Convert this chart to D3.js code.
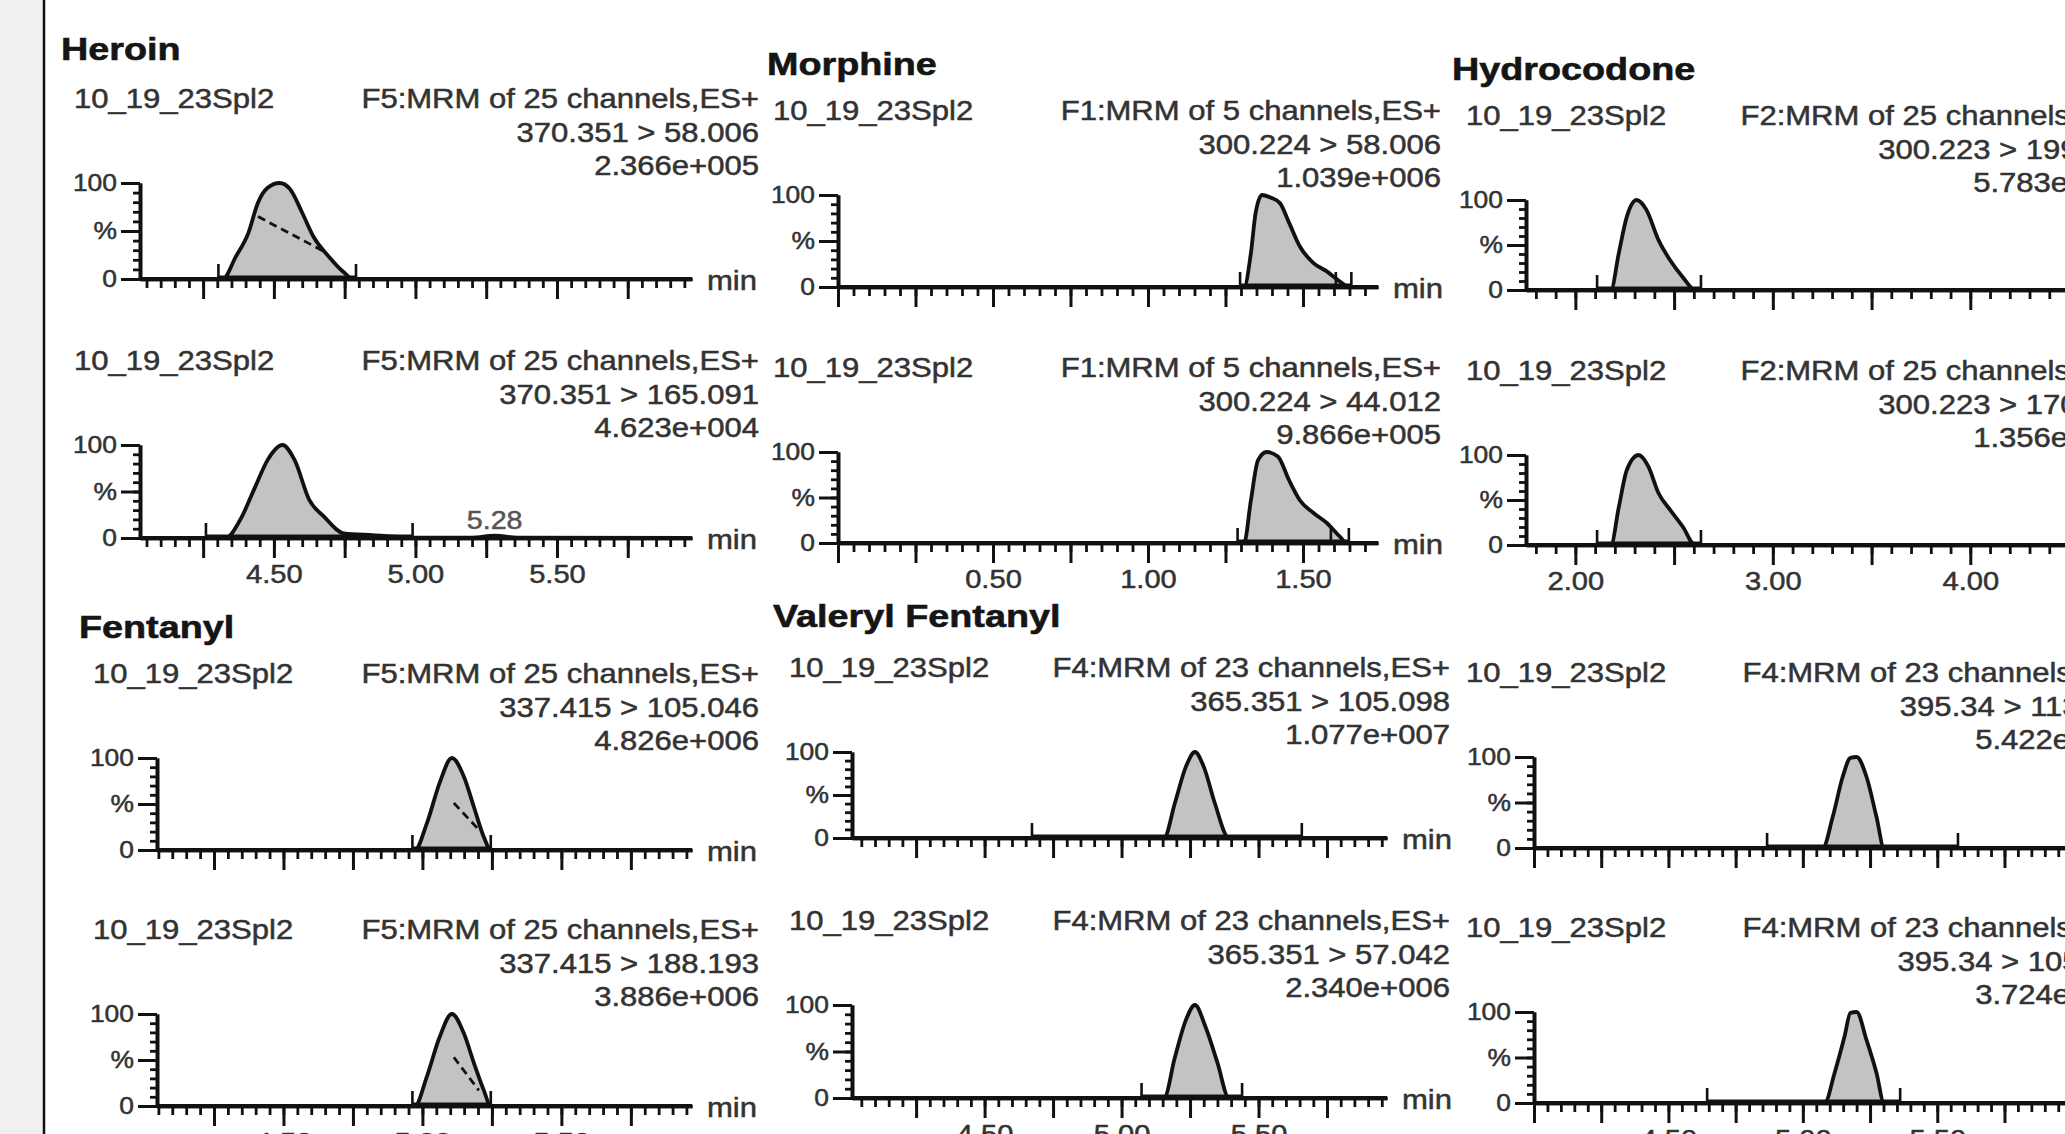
<!DOCTYPE html>
<html>
<head>
<meta charset="utf-8">
<script src="https://cdnjs.cloudflare.com/ajax/libs/d3/7.8.5/d3.min.js"></script>
<style>
    html, body { margin: 0; padding: 0; background: #fff; overflow: hidden; }
</style>
</head>
<body>
<div id="chart"></div>
<script>
// panel texts
var compounds = ["Heroin", "Morphine", "Hydrocodone", "Fentanyl", "Valeryl Fentanyl", "Carfentanil"];
var sampleName = "10_19_23Spl2";
var functionLabels = ["F5:MRM of 25 channels,ES+", "F1:MRM of 5 channels,ES+", "F2:MRM of 25 channels,ES+",
                      "F5:MRM of 25 channels,ES+", "F4:MRM of 23 channels,ES+", "F4:MRM of 23 channels,ES+"];
var transitions = [["370.351 > 58.006", "370.351 > 165.091"],
                   ["300.224 > 58.006", "300.224 > 44.012"],
                   ["300.223 > 199.134", "300.223 > 170.124"],
                   ["337.415 > 105.046", "337.415 > 188.193"],
                   ["365.351 > 105.098", "365.351 > 57.042"],
                   ["395.34 > 113.105", "395.34 > 105.064"]];
var maxIntensity = [["2.366e+005", "4.623e+004"],
                    ["1.039e+006", "9.866e+005"],
                    ["5.783e+005", "1.356e+005"],
                    ["4.826e+006", "3.886e+006"],
                    ["1.077e+007", "2.340e+006"],
                    ["5.422e+006", "3.724e+006"]];

// time axes (min)
var timeRanges = [[4.027, 5.977], [0, 1.742], [1.75, 4.51], [4.045, 5.97], [4.016, 5.969], [4.0, 5.99]];
var majorStep = [0.25, 0.25, 0.5, 0.25, 0.25, 0.25];
var minorStep = [0.05, 0.05, 0.1, 0.05, 0.05, 0.05];
var tickLabels = [["4.50", "5.00", "5.50"], ["0.50", "1.00", "1.50"], ["2.00", "3.00", "4.00"],
                  ["4.50", "5.00", "5.50"], ["4.50", "5.00", "5.50"], ["4.50", "5.00", "5.50"]];

// traces: retention time (min) and relative intensity (%)
var heroinA_t = [4.32, 4.365, 4.41, 4.443, 4.478, 4.52, 4.556, 4.60, 4.64, 4.695, 4.747, 4.78];
var heroinA_i = [0, 23, 48, 79, 95, 100, 94, 69, 44, 23, 7, 0];
var heroinB_t = [4.33, 4.38, 4.434, 4.478, 4.53, 4.573, 4.625, 4.677, 4.747, 4.85, 4.99, 5.20, 5.28, 5.36];
var heroinB_i = [0, 19, 55, 84, 100, 84, 41, 23, 5, 3, 0.5, 0.5, 2.5, 0.5];
var morphineA_t = [1.31, 1.332, 1.347, 1.368, 1.397, 1.426, 1.455, 1.49, 1.534, 1.577, 1.619, 1.648];
var morphineA_i = [0, 37, 80, 100, 97, 91, 70, 44, 26, 17, 6, 0];
var morphineB_t = [1.31, 1.332, 1.355, 1.383, 1.419, 1.455, 1.49, 1.534, 1.577, 1.619, 1.642];
var morphineB_i = [0, 47, 91, 100, 95, 69, 47, 33, 22, 7, 0];
var hydrocodoneA_t = [2.18, 2.22, 2.26, 2.31, 2.36, 2.42, 2.48, 2.545, 2.606];
var hydrocodoneA_i = [0, 41, 81, 100, 89, 56, 33, 14, 0];
var hydrocodoneB_t = [2.18, 2.22, 2.26, 2.32, 2.37, 2.42, 2.48, 2.545, 2.606];
var hydrocodoneB_i = [0, 42, 83, 100, 87, 58, 39, 20, 0];
var fentanylA_t = [4.973, 5.016, 5.062, 5.106, 5.149, 5.185, 5.221, 5.246];
var fentanylA_i = [0, 29, 73, 100, 80, 47, 14, 0];
var fentanylB_t = [4.973, 5.016, 5.062, 5.106, 5.149, 5.185, 5.221, 5.246];
var fentanylB_i = [0, 32, 75, 100, 79, 47, 17, 0];
var valerylA_t = [5.155, 5.195, 5.235, 5.268, 5.30, 5.34, 5.392];
var valerylA_i = [0, 41, 83, 100, 83, 41, 0];
var valerylB_t = [5.155, 5.195, 5.235, 5.268, 5.307, 5.35, 5.392];
var valerylB_i = [0, 44, 84, 100, 76, 38, 0];
var carfentanilA_t = [5.074, 5.111, 5.148, 5.177, 5.2, 5.237, 5.274, 5.302];
var carfentanilA_i = [0, 34, 78, 99, 100, 78, 34, 0];
var carfentanilB_t = [5.081, 5.118, 5.155, 5.177, 5.2, 5.237, 5.274, 5.302];
var carfentanilB_i = [0, 33, 73, 99, 100, 69, 33, 0];

// integration start / end markers (min)
var heroinA_marks = [4.304, 4.79], heroinB_marks = [4.26, 4.99];
var morphineA_marks = [1.297, 1.606, 1.656], morphineB_marks = [1.289, 1.59, 1.648];
var hydrocodoneA_marks = [2.11, 2.636], hydrocodoneB_marks = [2.11, 2.636];
var fentanylA_marks = [4.964, 5.246], fentanylB_marks = [4.964, 5.246];
var valerylA_marks = [4.673, 5.658], valerylB_marks = [5.073, 5.44];
var carfentanilA_marks = [4.867, 5.577], carfentanilB_marks = [4.644, 5.362];

// dashed overlays [t0, i0, t1, i1] and labelled minor peaks
var heroinA_dash = [4.444, 65, 4.688, 27];
var fentanylA_dash = [5.113, 51, 5.203, 22];
var fentanylB_dash = [5.113, 53, 5.203, 17];
var heroinB_peakT = [5.28];

var traces = [
    [{t: heroinA_t, i: heroinA_i, marks: heroinA_marks, dash: heroinA_dash},
     {t: heroinB_t, i: heroinB_i, marks: heroinB_marks, peaks: heroinB_peakT}],
    [{t: morphineA_t, i: morphineA_i, marks: morphineA_marks},
     {t: morphineB_t, i: morphineB_i, marks: morphineB_marks}],
    [{t: hydrocodoneA_t, i: hydrocodoneA_i, marks: hydrocodoneA_marks},
     {t: hydrocodoneB_t, i: hydrocodoneB_i, marks: hydrocodoneB_marks}],
    [{t: fentanylA_t, i: fentanylA_i, marks: fentanylA_marks, dash: fentanylA_dash},
     {t: fentanylB_t, i: fentanylB_i, marks: fentanylB_marks, dash: fentanylB_dash}],
    [{t: valerylA_t, i: valerylA_i, marks: valerylA_marks},
     {t: valerylB_t, i: valerylB_i, marks: valerylB_marks}],
    [{t: carfentanilA_t, i: carfentanilA_i, marks: carfentanilA_marks},
     {t: carfentanilB_t, i: carfentanilB_i, marks: carfentanilB_marks}]
];

// where each pasted panel sits on the page
var layout = [
    {titleX: 61, titleY: 60, textX: 74, rightX: 759, axisX: 140, axisW: 552, rows: [{y100: 183, y0: 279}, {y100: 445, y0: 538}]},
    {titleX: 767, titleY: 75, textX: 773, rightX: 1441, axisX: 838, axisW: 540, rows: [{y100: 195, y0: 287}, {y100: 452, y0: 543}]},
    {titleX: 1452, titleY: 80, textX: 1466, rightX: 2138, axisX: 1526, axisW: 545, rows: [{y100: 200, y0: 290}, {y100: 455, y0: 545}]},
    {titleX: 79, titleY: 638, textX: 93, rightX: 759, axisX: 157, axisW: 535, rows: [{y100: 758, y0: 850}, {y100: 1014, y0: 1106}]},
    {titleX: 773, titleY: 627, textX: 789, rightX: 1450, axisX: 852, axisW: 535, rows: [{y100: 752, y0: 838}, {y100: 1005, y0: 1098}]},
    {titleX: 1455, titleY: 640, textX: 1466, rightX: 2140, axisX: 1534, axisW: 535, clipX: 1463, rows: [{y100: 757, y0: 848}, {y100: 1012, y0: 1103}]}
];

var W = 2065, H = 1134,
    font = "'Liberation Sans', Arial, Helvetica, sans-serif",
    ink = "#111",
    textGrey = "#333",

    svg = d3.select("#chart").append("svg")
        .attr("width", W)
        .attr("height", H)
        .style("font-family", font),

    // text in the source is a little wide and heavy, so stretch it and give it a thin outline
    label = function (g, x, y, str, size, anchor, weight, sx, color) {
        return g.append("text")
            .attr("transform", "translate(" + x + "," + y + ") scale(" + sx + ",1)")
            .attr("text-anchor", anchor)
            .attr("font-size", size + "px")
            .attr("font-weight", weight)
            .attr("fill", color)
            .attr("stroke", color)
            .attr("stroke-width", weight === "bold" ? 0.6 : 0.5)
            .text(str);
    },

    ticksFor = function (dom, step) {
        var a = Math.ceil(dom[0] / step - 1e-6),
            b = Math.floor(dom[1] / step + 1e-6);
        return d3.range(a, b + 1).map(function (n) { return +(n * step).toFixed(3); });
    },

    styleAxis = function (sel, width) {
        sel.attr("font-family", font);
        sel.select(".domain").attr("stroke", ink).attr("stroke-width", 3.6);
        sel.selectAll(".tick line").attr("stroke", ink).attr("stroke-width", width);
    };

svg.append("rect").attr("width", W).attr("height", H).attr("fill", "#fff");
svg.append("rect").attr("width", 43).attr("height", H).attr("fill", "#f0f0f0");
svg.append("line").attr("x1", 44).attr("x2", 44).attr("y1", 0).attr("y2", H)
    .attr("stroke", ink).attr("stroke-width", 2.5);

layout.forEach(function (p, k) {
    var g = svg.append("g"),
        dom = timeRanges[k],
        title = label(g, p.titleX, p.titleY, compounds[k], 32, "start", "bold", 1.18, "#151515");

    if (p.clipX) {
        svg.append("clipPath").attr("id", "clip" + k)
            .append("rect").attr("x", p.clipX).attr("y", 0).attr("width", W).attr("height", H);
        title.attr("clip-path", "url(#clip" + k + ")");
    }

    traces[k].forEach(function (tr, j) {
        var box = p.rows[j],
            x = d3.scaleLinear().domain(dom).range([p.axisX, p.axisX + p.axisW]),
            y = d3.scaleLinear().domain([0, 100]).range([box.y0, box.y100]),
            pts = tr.t.map(function (t, n) { return {t: t, i: tr.i[n]}; }),
            full = [{t: dom[0], i: 0}].concat(pts, [{t: dom[1], i: 0}]),
            m0 = tr.marks[0],
            m1 = tr.marks[tr.marks.length - 1],
            inside = pts.filter(function (d) { return d.t >= m0 && d.t <= m1; }),
            gx, gy, gxMajor, gyMajor;

        // header lines
        label(g, p.textX, box.y100 - 75, sampleName, 27, "start", "normal", 1.15, textGrey);
        label(g, p.rightX, box.y100 - 75, functionLabels[k], 27, "end", "normal", 1.15, textGrey);
        label(g, p.rightX, box.y100 - 41, transitions[k][j], 27, "end", "normal", 1.15, textGrey);
        label(g, p.rightX, box.y100 - 8, maxIntensity[k][j], 27, "end", "normal", 1.15, textGrey);

        // shaded peak
        g.append("path")
            .datum(inside)
            .attr("fill", "#c3c3c3")
            .attr("d", d3.area()
                .x(function (d) { return x(d.t); })
                .y0(y(0))
                .y1(function (d) { return y(d.i); })
                .curve(d3.curveMonotoneX));

        // x axis: minor and major ticks
        gx = g.append("g").attr("transform", "translate(0," + box.y0 + ")");
        gx.call(d3.axisBottom(x).tickValues(ticksFor(dom, minorStep[k]))
            .tickSize(9).tickSizeOuter(0).tickFormat(""));
        styleAxis(gx, 2.8);
        gxMajor = g.append("g").attr("transform", "translate(0," + box.y0 + ")");
        gxMajor.call(d3.axisBottom(x).tickValues(ticksFor(dom, majorStep[k]))
            .tickSize(20).tickSizeOuter(0).tickPadding(7)
            .tickFormat(function (d) {
                var s = d.toFixed(2);
                return (j === 1 && tickLabels[k].indexOf(s) >= 0) ? s : "";
            }));
        styleAxis(gxMajor, 3);
        gxMajor.selectAll(".tick text")
            .attr("font-size", "26px")
            .attr("fill", textGrey)
            .attr("stroke", textGrey)
            .attr("stroke-width", 0.5)
            .attr("transform", "scale(1.12,1)");

        label(g, p.axisX + p.axisW + 15, box.y0 + 11, "min", 27, "start", "normal", 1.15, textGrey);

        // y axis
        gy = g.append("g").attr("transform", "translate(" + p.axisX + ",0)");
        gy.call(d3.axisLeft(y).tickValues(d3.range(0, 101, 10))
            .tickSize(7).tickSizeOuter(0).tickFormat(""));
        styleAxis(gy, 2.8);
        gyMajor = g.append("g").attr("transform", "translate(" + p.axisX + ",0)");
        gyMajor.call(d3.axisLeft(y).tickValues([0, 50, 100])
            .tickSize(19).tickSizeOuter(0).tickPadding(2)
            .tickFormat(function (d) { return d === 50 ? "%" : d; }));
        styleAxis(gyMajor, 3);
        gyMajor.selectAll(".tick text")
            .attr("font-size", "24px")
            .attr("fill", textGrey)
            .attr("stroke", textGrey)
            .attr("stroke-width", 0.5)
            .attr("transform", "scale(1.1,1)");

        // integration baseline and markers
        g.append("line")
            .attr("x1", x(m0)).attr("x2", x(m1))
            .attr("y1", y(0) - 2).attr("y2", y(0) - 2)
            .attr("stroke", ink).attr("stroke-width", 3);
        g.selectAll(null).data(tr.marks).enter().append("line")
            .attr("x1", function (d) { return x(d); })
            .attr("x2", function (d) { return x(d); })
            .attr("y1", y(0) + 2)
            .attr("y2", y(0) - 15)
            .attr("stroke", ink).attr("stroke-width", 2.6);

        if (tr.dash) {
            g.append("line")
                .attr("x1", x(tr.dash[0])).attr("y1", y(tr.dash[1]))
                .attr("x2", x(tr.dash[2])).attr("y2", y(tr.dash[3]))
                .attr("stroke", ink).attr("stroke-width", 2.8)
                .attr("stroke-dasharray", "8,5");
        }

        // trace outline
        g.append("path")
            .datum(full)
            .attr("fill", "none")
            .attr("stroke", ink)
            .attr("stroke-width", 3.8)
            .attr("stroke-linejoin", "round")
            .attr("d", d3.line()
                .x(function (d) { return x(d.t); })
                .y(function (d) { return y(d.i); })
                .curve(d3.curveMonotoneX));

        if (tr.peaks) {
            tr.peaks.forEach(function (t) {
                label(g, x(t), y(0) - 9, t.toFixed(2), 26, "middle", "normal", 1.1, "#555");
            });
        }
    });
});
</script>
</body>
</html>
